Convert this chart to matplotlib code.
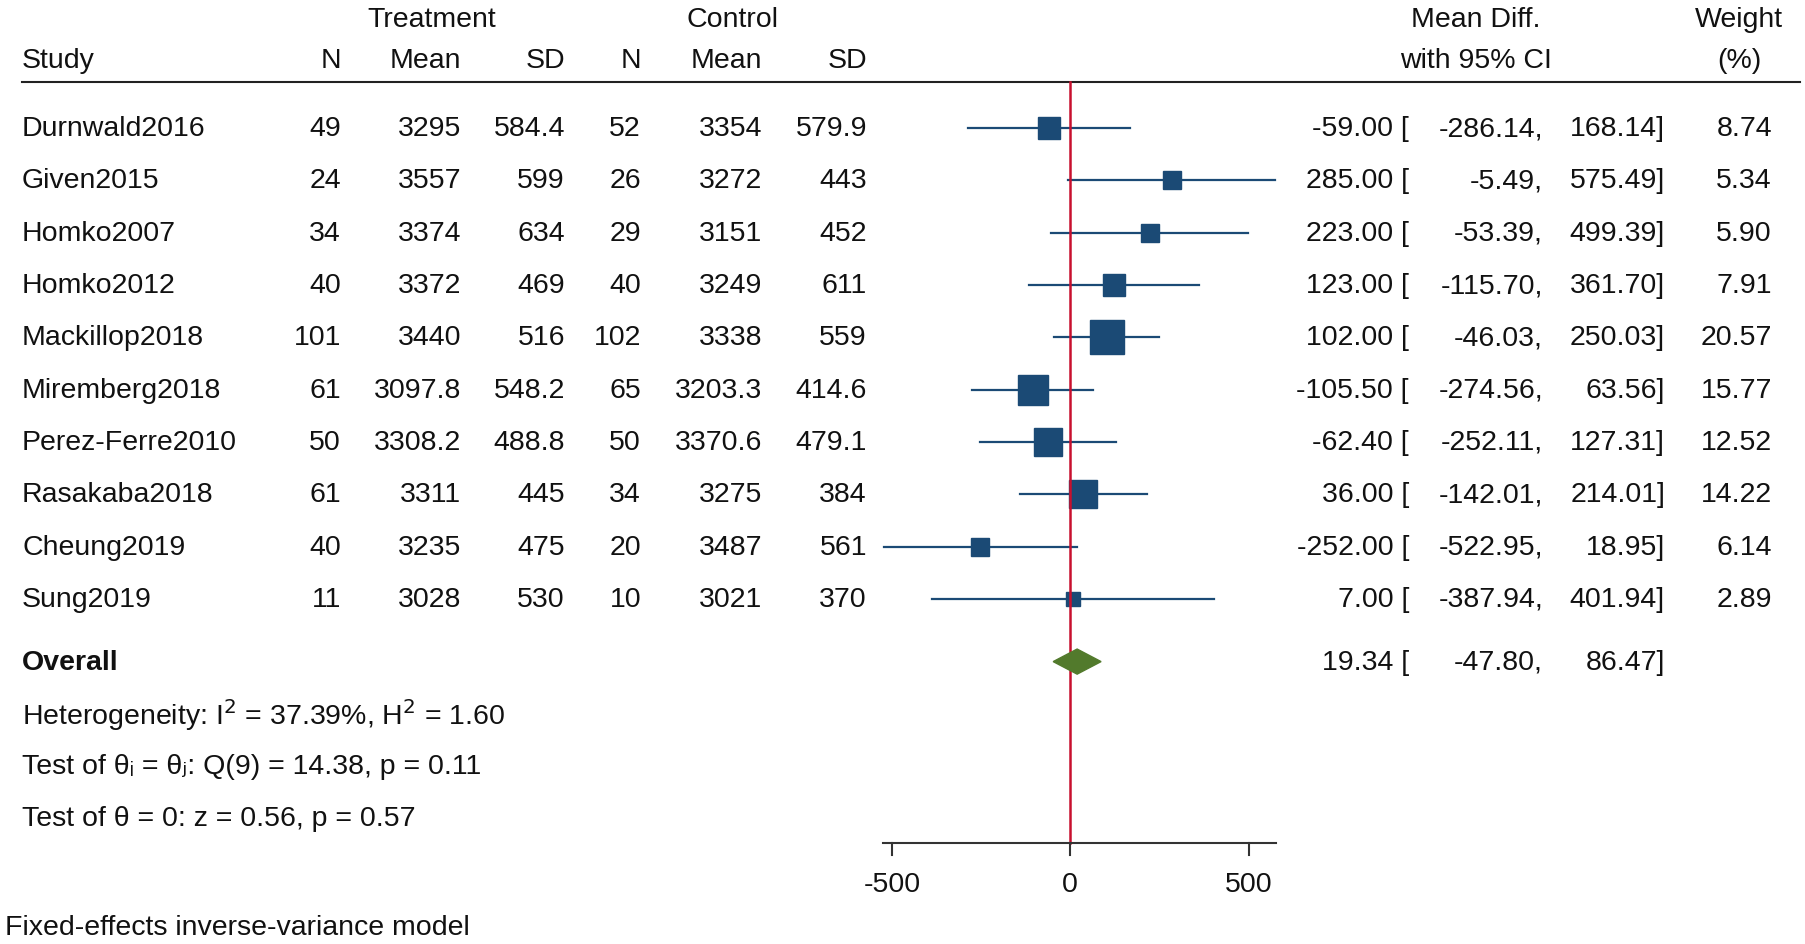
import matplotlib
matplotlib.use('Agg')
import matplotlib.pyplot as plt
import matplotlib.transforms as mtransforms
import numpy as np

plt.rcParams['font.family'] = ['Liberation Sans', 'DejaVu Sans']

studies = ['Durnwald2016', 'Given2015', 'Homko2007', 'Homko2012', 'Mackillop2018',
           'Miremberg2018', 'Perez-Ferre2010', 'Rasakaba2018', 'Cheung2019', 'Sung2019']
t_n = [49, 24, 34, 40, 101, 61, 50, 61, 40, 11]
t_mean = ['3295', '3557', '3374', '3372', '3440', '3097.8', '3308.2', '3311', '3235', '3028']
t_sd = ['584.4', '599', '634', '469', '516', '548.2', '488.8', '445', '475', '530']
c_n = [52, 26, 29, 40, 102, 65, 50, 34, 20, 10]
c_mean = ['3354', '3272', '3151', '3249', '3338', '3203.3', '3370.6', '3275', '3487', '3021']
c_sd = ['579.9', '443', '452', '611', '559', '414.6', '479.1', '384', '561', '370']
md = [-59.00, 285.00, 223.00, 123.00, 102.00, -105.50, -62.40, 36.00, -252.00, 7.00]
lo = [-286.14, -5.49, -53.39, -115.70, -46.03, -274.56, -252.11, -142.01, -522.95, -387.94]
hi = [168.14, 575.49, 499.39, 361.70, 250.03, 63.56, 127.31, 214.01, 18.95, 401.94]
weight = [8.74, 5.34, 5.90, 7.91, 20.57, 15.77, 12.52, 14.22, 6.14, 2.89]
overall = (19.34, -47.80, 86.47)

W, H = 1805, 945
fig = plt.figure(figsize=(W / 100, H / 100), dpi=100)
ax = fig.add_axes([883 / W, 0, 393 / W, 1])
ax.set_xlim(-525, 577)
ax.set_ylim(15.6, -2.47)
ax.axis('off')
tr = mtransforms.blended_transform_factory(fig.transFigure, ax.transData)
fs = 20.5
blue = '#1b4a75'

def t(xpx, y, s, ha='right', **kw):
    fig.text(xpx / W, y, s, transform=tr, ha=ha, va='center', fontsize=fs, color='#111111', **kw)

# headers
t(432, -2.08, 'Treatment', 'center')
t(733, -2.08, 'Control', 'center')
t(1476, -2.08, 'Mean Diff.', 'center')
t(1739, -2.08, 'Weight', 'center')
t(22, -1.3, 'Study', 'left')
for xp, s in [(341, 'N'), (461, 'Mean'), (565, 'SD'), (641, 'N'), (762, 'Mean'), (867, 'SD')]:
    t(xp, -1.3, s)
t(1476, -1.3, 'with 95% CI', 'center')
t(1739, -1.3, '(%)', 'center')
ax.plot([22 / W, 1800 / W], [-0.88, -0.88], transform=tr, color='#222222', lw=1.5, clip_on=False)

for i, name in enumerate(studies):
    t(22, i, name, 'left')
    t(341, i, str(t_n[i]))
    t(461, i, t_mean[i])
    t(565, i, t_sd[i])
    t(641, i, str(c_n[i]))
    t(762, i, c_mean[i])
    t(867, i, c_sd[i])
    t(1409, i, f'{md[i]:.2f} [')
    t(1543, i, f'{lo[i]:.2f},')
    t(1665, i, f'{hi[i]:.2f}]')
    t(1772, i, f'{weight[i]:.2f}')
    ax.plot([lo[i], hi[i]], [i, i], color=blue, lw=1.6, clip_on=False)
    ax.plot(md[i], i, 's', color=blue, ms=25 * np.sqrt(weight[i] / 20.57), clip_on=False)

yo = 10.2
t(22, yo, 'Overall', 'left', fontweight='bold')
t(1409, yo, f'{overall[0]:.2f} [')
t(1543, yo, f'{overall[1]:.2f},')
t(1665, yo, f'{overall[2]:.2f}]')
ax.fill([overall[1], overall[0], overall[2], overall[0]], [yo, yo - 0.24, yo, yo + 0.24],
        color='#527a2c', clip_on=False, zorder=3)

t(22, 11.2, 'Heterogeneity: I$^2$ = 37.39%, H$^2$ = 1.60', 'left')
t(22, 12.2, 'Test of θᵢ = θⱼ: Q(9) = 14.38, p = 0.11', 'left')
t(22, 13.2, 'Test of θ = 0: z = 0.56, p = 0.57', 'left')
t(5, 15.28, 'Fixed-effects inverse-variance model', 'left')

ax.plot([0, 0], [-0.88, 13.67], color='#c8102e', lw=1.8, zorder=2, clip_on=False)
ax.plot([-525, 577], [13.67, 13.67], color='#333333', lw=1.5, clip_on=False)
for v in [-500, 0, 500]:
    ax.plot([v, v], [13.67, 13.9], color='#333333', lw=1.5, clip_on=False)
    ax.text(v, 14.45, f'{v}', ha='center', va='center', fontsize=fs, color='#111111')

fig.savefig('out.png', dpi=100, facecolor='white')
